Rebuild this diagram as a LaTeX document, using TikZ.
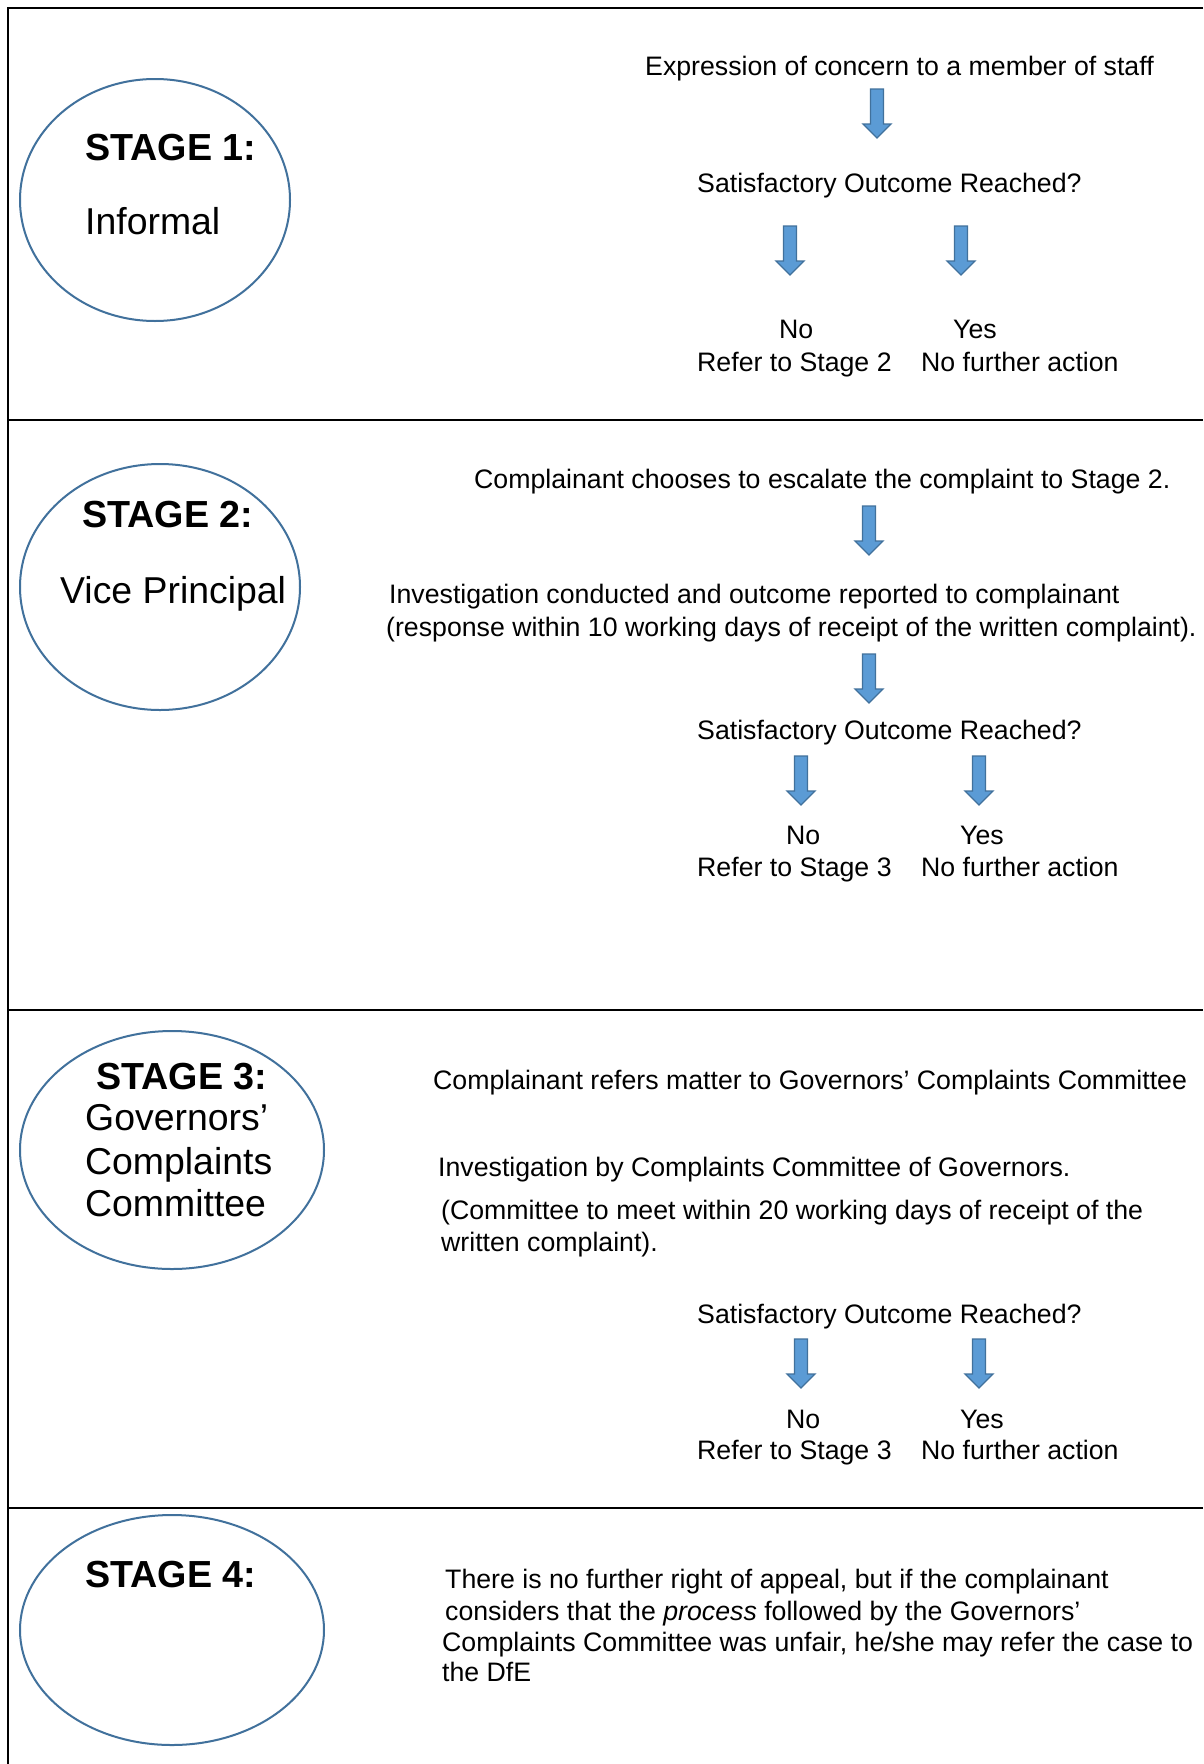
\documentclass[tikz,border=0pt]{standalone}
\usepackage{fontspec}
\setmainfont{Liberation Sans}
\usetikzlibrary{shapes.geometric}
\definecolor{ellline}{RGB}{65,113,156}
\definecolor{arrowfill}{RGB}{91,155,213}
\definecolor{arrowline}{RGB}{65,113,156}
\tikzset{
  body/.style={anchor=base west, inner sep=0pt, font=\fontsize{26.7}{31}\selectfont},
  stagelbl/.style={anchor=base west, inner sep=0pt, font=\fontsize{37.7}{43}\selectfont\bfseries},
  stagetxt/.style={anchor=base west, inner sep=0pt, font=\fontsize{37.4}{43}\selectfont},
  stageell/.style={draw=ellline, line width=2pt, ellipse, inner sep=0pt},
  frameline/.style={line width=2pt, black},
  blockarrow/.pic={
    \filldraw[fill=arrowfill, draw=arrowline, line width=1.3pt, line join=miter]
      (-6.5,0) -- (6.5,0) -- (6.5,35) -- (14,35) -- (0,49) -- (-14,35) -- (-6.5,35) -- cycle;
  }
}
\begin{document}
\begin{tikzpicture}[x=1pt,y=-1pt]
\useasboundingbox[fill=white] (0,0) rectangle (1203,1764);
% frame
\coordinate (tl) at (8,8);
\coordinate (tr) at (1203,8);
\coordinate (bl) at (8,1764);
\draw[frameline] (tr) -- (tl) -- (bl);
\coordinate (d1l) at (8,420);  \coordinate (d1r) at (1203,420);
\coordinate (d2l) at (8,1010); \coordinate (d2r) at (1203,1010);
\coordinate (d3l) at (8,1508); \coordinate (d3r) at (1203,1508);
\draw[frameline] (d1l) -- (d1r);
\draw[frameline] (d2l) -- (d2r);
\draw[frameline] (d3l) -- (d3r);

% ---------- Stage 1 ----------
\node[stageell, minimum width=270pt, minimum height=242pt] (e1) at (155,200) {};
\node[stagelbl] (s1) at (85,160) {STAGE 1:};
\node[stagetxt] (s1t) at (85,234) {Informal};
\node[body] (t1a) at (645,75) {Expression of concern to a member of staff};
\pic at (877,89) {blockarrow};
\node[body] (t1b) at (697,192) {Satisfactory Outcome Reached?};
\pic at (790,226) {blockarrow};
\pic at (961,226) {blockarrow};
\node[body] (t1no) at (779,338) {No};
\node[body] (t1yes) at (953,338) {Yes};
\node[body] (t1r) at (697,371) {Refer to Stage 2};
\node[body] (t1n) at (921,371) {No further action};

% ---------- Stage 2 ----------
\node[stageell, minimum width=280pt, minimum height=246pt] (e2) at (160,587) {};
\node[stagelbl] (s2) at (82,527) {STAGE 2:};
\node[stagetxt] (s2t) at (60,603) {Vice Principal};
\node[body] (t2a) at (474,488) {Complainant chooses to escalate the complaint to Stage 2.};
\pic at (869,506) {blockarrow};
\node[body] (t2b) at (389,603) {Investigation conducted and outcome reported to complainant};
\node[body] (t2c) at (386,636) {(response within 10 working days of receipt of the written complaint).};
\pic at (869,654) {blockarrow};
\node[body] (t2d) at (697,739) {Satisfactory Outcome Reached?};
\pic at (801,756) {blockarrow};
\pic at (979,756) {blockarrow};
\node[body] (t2no) at (786,844) {No};
\node[body] (t2yes) at (960,844) {Yes};
\node[body] (t2r) at (697,876) {Refer to Stage 3};
\node[body] (t2n) at (921,876) {No further action};

% ---------- Stage 3 ----------
\node[stageell, minimum width=304pt, minimum height=238pt] (e3) at (172,1150) {};
\node[stagelbl] (s3) at (96,1089) {STAGE 3:};
\node[stagetxt] (s3a) at (85,1130) {Governors’};
\node[stagetxt] (s3b) at (85,1174) {Complaints};
\node[stagetxt] (s3c) at (85,1216) {Committee};
\node[body] (t3a) at (433,1089) {Complainant refers matter to Governors’ Complaints Committee};
\node[body] (t3b) at (438,1176) {Investigation by Complaints Committee of Governors.};
\node[body] (t3c) at (441,1219) {(Committee to meet within 20 working days of receipt of the};
\node[body] (t3d) at (441,1251) {written complaint).};
\node[body] (t3e) at (697,1323) {Satisfactory Outcome Reached?};
\pic at (801,1339) {blockarrow};
\pic at (979,1339) {blockarrow};
\node[body] (t3no) at (786,1428) {No};
\node[body] (t3yes) at (960,1428) {Yes};
\node[body] (t3r) at (697,1459) {Refer to Stage 3};
\node[body] (t3n) at (921,1459) {No further action};

% ---------- Stage 4 ----------
\node[stageell, minimum width=304pt, minimum height=230pt] (e4) at (172,1630) {};
\node[stagelbl] (s4) at (85,1587) {STAGE 4:};
\node[body] (t4a) at (445,1588) {There is no further right of appeal, but if the complainant};
\node[body] (t4b) at (445,1620) {considers that the \textit{process} followed by the Governors’};
\node[body] (t4c) at (442,1651) {Complaints Committee was unfair, he/she may refer the case to};
\node[body] (t4d) at (442,1681) {the DfE};
\end{tikzpicture}
\end{document}
